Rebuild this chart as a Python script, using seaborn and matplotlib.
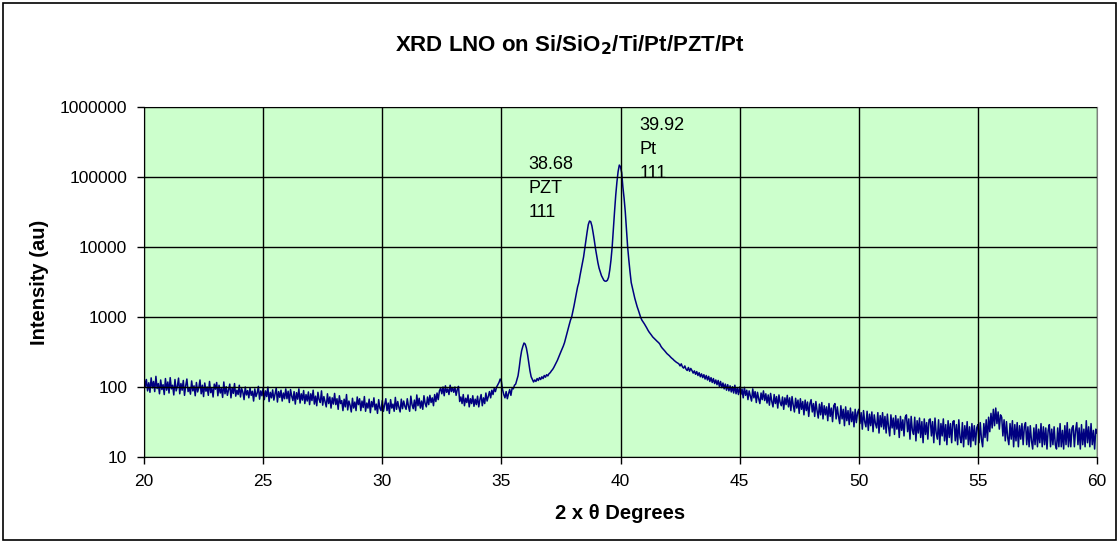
import numpy as np
import pandas as pd
import matplotlib
matplotlib.use("Agg")
import matplotlib.pyplot as plt
import seaborn as sns
from matplotlib.patches import Rectangle

# scan: 20 -> 60 deg 2-theta, 0.05 deg step
scan_start = 20.0
scan_step = 0.05

# intensity (au), one row per degree (20 points each), last value at 60.0
intensity_rows = [
    [140, 100, 128, 88, 115, 84, 135, 97, 120, 86, 142, 95, 112, 80, 126, 92, 108, 78, 132, 90],
    [118, 82, 136, 94, 106, 77, 128, 88, 102, 134, 80, 112, 90, 124, 76, 104, 130, 86, 98, 79],
    [122, 88, 104, 75, 116, 85, 97, 126, 80, 106, 73, 114, 87, 100, 76, 120, 83, 96, 72, 110],
    [93, 116, 75, 106, 82, 96, 71, 118, 80, 101, 76, 92, 110, 70, 98, 81, 112, 74, 90, 78],
    [106, 72, 95, 84, 66, 100, 77, 89, 70, 97, 76, 87, 63, 94, 73, 82, 102, 67, 88, 75],
    [96, 66, 88, 73, 100, 62, 84, 70, 91, 65, 80, 97, 61, 86, 71, 90, 63, 82, 68, 94],
    [68, 87, 60, 92, 74, 64, 86, 57, 83, 67, 94, 59, 80, 65, 89, 58, 78, 63, 85, 56],
    [80, 64, 90, 57, 74, 54, 84, 66, 60, 88, 55, 73, 62, 52, 80, 58, 72, 50, 70, 57],
    [81, 56, 68, 48, 75, 58, 64, 46, 67, 52, 78, 47, 63, 55, 44, 69, 50, 61, 46, 72],
    [56, 68, 46, 63, 51, 73, 45, 59, 50, 67, 43, 62, 52, 70, 47, 57, 42, 66, 50, 46],
    [64, 45, 56, 68, 46, 59, 42, 66, 50, 57, 45, 71, 48, 62, 51, 44, 67, 49, 63, 53],
    [48, 68, 53, 45, 74, 56, 49, 65, 46, 77, 54, 69, 50, 63, 48, 75, 58, 52, 72, 56],
    [76, 60, 70, 54, 78, 62, 82, 66, 88, 96, 80, 100, 75, 104, 84, 94, 78, 106, 86, 98],
    [84, 100, 76, 92, 102, 62, 72, 58, 78, 54, 69, 60, 77, 52, 68, 58, 75, 53, 67, 56],
    [74, 52, 66, 78, 54, 70, 58, 82, 63, 73, 86, 70, 90, 78, 96, 86, 100, 108, 116, 130],
    [120, 92, 78, 70, 86, 68, 80, 92, 76, 96, 94, 106, 110, 126, 145, 190, 260, 330, 380, 425],
    [410, 360, 290, 220, 170, 140, 128, 118, 126, 120, 132, 124, 136, 128, 140, 132, 146, 138, 150, 144],
    [155, 160, 170, 178, 190, 205, 220, 240, 265, 290, 320, 350, 385, 430, 500, 580, 680, 780, 900, 1000],
    [1200, 1450, 1800, 2200, 2700, 3100, 3900, 4800, 6000, 7200, 9500, 12500, 16500, 21000, 23500, 23000, 20000, 16000, 12500, 9500],
    [7500, 6000, 5000, 4400, 3900, 3600, 3350, 3250, 3250, 3350, 3700, 4700, 6500, 10000, 18000, 32000, 55000, 85000, 120000, 148000],
    [140000, 115000, 72000, 50000, 32000, 18000, 10000, 6500, 4400, 3100, 2600, 2200, 1850, 1600, 1400, 1250, 1100, 980, 900, 850],
    [800, 750, 700, 650, 610, 580, 550, 520, 500, 480, 460, 445, 430, 410, 380, 360, 345, 330, 315, 300],
    [290, 280, 268, 258, 250, 240, 232, 225, 220, 214, 200, 214, 194, 186, 200, 180, 172, 190, 168, 184],
    [172, 158, 170, 152, 166, 146, 160, 140, 154, 136, 150, 130, 146, 126, 142, 120, 136, 116, 132, 112],
    [126, 108, 124, 102, 120, 98, 114, 94, 110, 90, 108, 88, 104, 85, 101, 82, 106, 80, 98, 78],
    [100, 78, 94, 70, 99, 76, 90, 66, 88, 74, 63, 94, 70, 86, 60, 84, 68, 58, 82, 66],
    [88, 64, 80, 59, 77, 55, 81, 62, 52, 78, 58, 73, 50, 77, 60, 54, 72, 48, 70, 56],
    [76, 52, 70, 46, 73, 55, 44, 69, 50, 65, 42, 68, 48, 62, 40, 65, 46, 61, 38, 58],
    [66, 44, 58, 38, 62, 46, 36, 57, 40, 60, 35, 54, 40, 52, 33, 58, 38, 50, 32, 54],
    [58, 35, 52, 38, 30, 54, 35, 48, 28, 52, 33, 46, 29, 50, 32, 44, 27, 48, 31, 43],
    [48, 30, 43, 25, 46, 32, 27, 45, 24, 41, 28, 44, 23, 40, 30, 26, 43, 22, 39, 27],
    [43, 25, 38, 22, 41, 27, 20, 40, 26, 36, 21, 39, 25, 35, 19, 38, 24, 34, 20, 37],
    [40, 23, 35, 18, 38, 24, 21, 37, 17, 33, 22, 36, 19, 32, 16, 35, 21, 31, 18, 34],
    [35, 20, 32, 16, 36, 22, 18, 34, 15, 30, 20, 35, 17, 29, 15, 33, 19, 30, 16, 32],
    [33, 17, 29, 15, 34, 19, 16, 31, 14, 28, 18, 32, 15, 27, 14, 30, 17, 28, 15, 26],
    [29, 16, 31, 18, 14, 30, 19, 34, 17, 37, 23, 42, 26, 48, 28, 50, 30, 44, 25, 40],
    [37, 20, 34, 17, 32, 19, 15, 30, 18, 33, 14, 29, 17, 31, 14, 28, 18, 30, 15, 27],
    [31, 15, 27, 14, 28, 17, 13, 26, 15, 29, 14, 25, 16, 30, 14, 27, 15, 26, 13, 24],
    [29, 14, 25, 15, 27, 15, 13, 26, 14, 30, 14, 24, 13, 28, 15, 31, 14, 25, 14, 26],
    [28, 14, 24, 31, 15, 26, 13, 29, 15, 25, 14, 33, 16, 27, 14, 30, 15, 24, 13, 25],
    [22],
]

y_ticks = [10, 100, 1000, 10000, 100000, 1000000]
x_ticks = [20, 25, 30, 35, 40, 45, 50, 55, 60]

peak_labels = ["38.68\nPZT\n111", "39.92\nPt\n111"]
peak_label_pos = [(36.15, 200000), (40.8, 720000)]

intensity = [v for row in intensity_rows for v in row]
two_theta = np.round(scan_start + scan_step * np.arange(len(intensity)), 2)
df = pd.DataFrame({"two_theta": two_theta, "intensity": intensity})

plt.rcParams['font.family'] = ['Liberation Sans', 'DejaVu Sans']

fig = plt.figure(figsize=(11.19, 5.42), dpi=100)
ax = fig.add_axes([144 / 1119, 1 - 457 / 542, (1097 - 144) / 1119, (457 - 107) / 542])
ax.set_facecolor('#CCFFCC')

sns.lineplot(data=df, x="two_theta", y="intensity", ax=ax, color='#000080', linewidth=1.1)

ax.set_yscale('log')
ax.set_xlim(20, 60)
ax.set_ylim(10, 1000000)
ax.set_xticks(x_ticks)
ax.set_xticklabels([str(t) for t in x_ticks], fontsize=12.5)
ax.set_yticks(y_ticks)
ax.set_yticklabels([str(t) for t in y_ticks], fontsize=12.5)
ax.minorticks_off()
ax.tick_params(axis='both', direction='out', length=5, width=1, color='black', pad=7)
ax.grid(True, color='black', linewidth=1)
ax.set_axisbelow(False)
for side in ['top', 'right']:
    ax.spines[side].set_color('#808080')
for side in ['left', 'bottom']:
    ax.spines[side].set_color('black')

ax.set_xlabel("2 x θ Degrees", fontsize=14.5, fontweight='bold')
ax.set_ylabel("Intensity (au)", fontsize=14.5, fontweight='bold')
ax.xaxis.set_label_coords((620 - 144) / 953, -0.135)
ax.yaxis.set_label_coords(-0.1, 0.5)
fig.text(0.509, 1 - 45 / 542, r"XRD LNO on Si/SiO$_\mathbf{2}$/Ti/Pt/PZT/Pt",
         ha='center', va='center', fontsize=16, fontweight='bold')

for txt, (px, py) in zip(peak_labels, peak_label_pos):
    ax.text(px, py, txt, ha='left', va='top', fontsize=13, linespacing=1.55)

fig.patches.append(Rectangle((3 / 1119, 2 / 542), 1 - 6 / 1119, 1 - 5 / 542, transform=fig.transFigure,
                             fill=False, edgecolor='black', linewidth=1.2))

fig.savefig("out.png", dpi=100)
